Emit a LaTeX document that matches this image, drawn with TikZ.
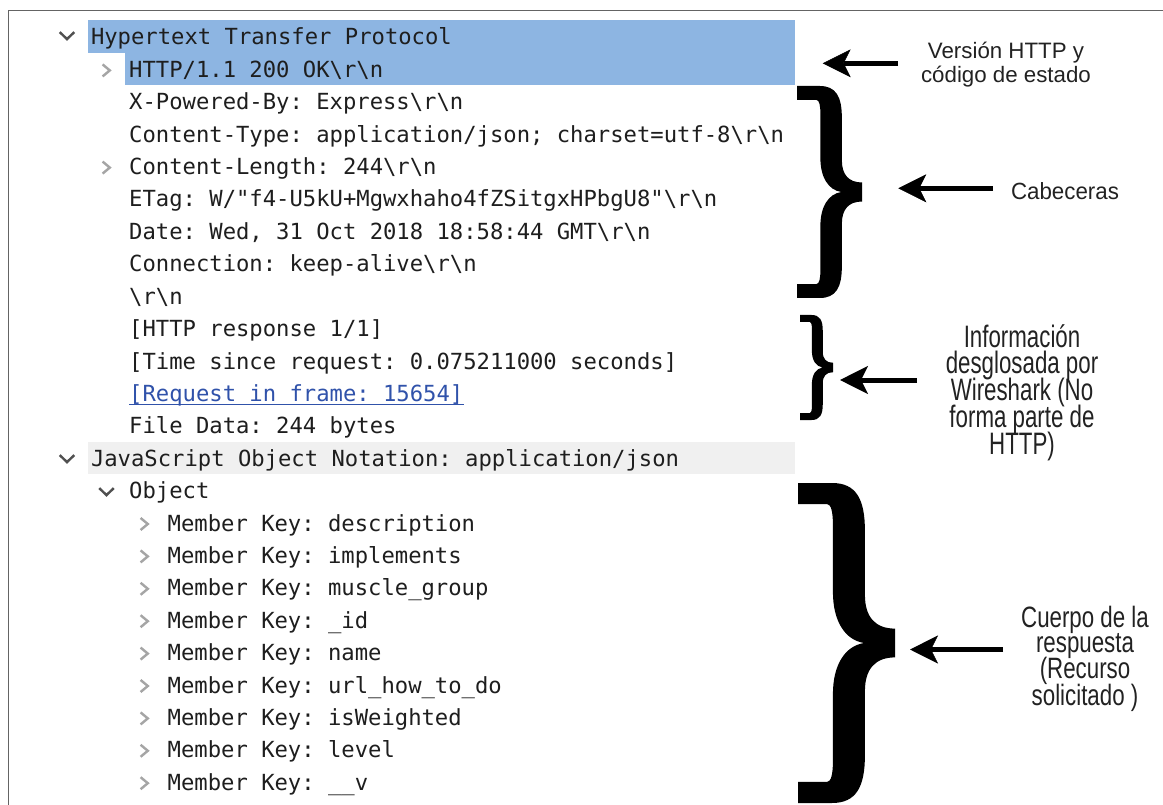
\documentclass[tikz,border=0pt]{standalone}
\usepackage{fontspec}
\usepackage{graphicx}
\setmonofont{DejaVu Sans Mono}
\newfontfamily\labelfont{Liberation Sans}
\usetikzlibrary{arrows.meta}

\definecolor{selblue}{RGB}{141,181,226}
\definecolor{rowgray}{RGB}{240,240,240}
\definecolor{framecol}{RGB}{100,100,100}
\definecolor{codecol}{RGB}{30,30,30}
\definecolor{linkcol}{RGB}{48,82,170}
\definecolor{chevdark}{RGB}{80,80,80}
\definecolor{chevlight}{RGB}{165,165,165}
\definecolor{labcol}{RGB}{34,34,34}

% "\r\n" as printed by the packet dissector
\newcommand\eolmark{\textbackslash r\textbackslash n}
% vertically stretched label line
\newcommand\stretchy[2]{\scalebox{1}[#1]{#2}}
% bold curly brace outline in a unit box (x right, y down)
\newcommand\bracepath{(0,0) -- (0.35,0)
  .. controls (0.6,0) and (0.69,0.05) .. (0.69,0.15) -- (0.69,0.35)
  .. controls (0.69,0.42) and (0.8,0.455) .. (1,0.455) -- (1,0.545)
  .. controls (0.8,0.545) and (0.69,0.58) .. (0.69,0.65) -- (0.69,0.85)
  .. controls (0.69,0.95) and (0.6,1) .. (0.35,1) -- (0,1) -- (0,0.934)
  -- (0.3,0.934) .. controls (0.34,0.934) and (0.36,0.91) .. (0.36,0.87)
  -- (0.36,0.66) .. controls (0.36,0.57) and (0.48,0.51) .. (0.68,0.5)
  .. controls (0.48,0.49) and (0.36,0.43) .. (0.36,0.34) -- (0.36,0.13)
  .. controls (0.36,0.09) and (0.34,0.066) .. (0.3,0.066) -- (0,0.066) -- cycle}

\tikzset{
  pics/chevopen/.style={code={
    \draw[chevdark, line width=2.4pt] (-7.3,-3.4) -- (0,3.6) -- (7.3,-3.4);}},
  pics/chevshut/.style={code={
    \draw[chevlight, line width=2.4pt] (-3.4,-6) -- (3.8,0) -- (-3.4,6);}},
}

\begin{document}
\begin{tikzpicture}[x=1pt, y=-1pt,
  code/.style={font=\ttfamily\fontsize{22.2}{26}\selectfont, text=codecol,
    inner sep=0pt, anchor=base west},
  link/.style={code, text=linkcol},
  lab/.style={font=\labelfont\fontsize{22.3}{26}\selectfont, text=labcol,
    inner sep=0pt, anchor=base},
  callout/.style={black, line width=5pt,
    -{Stealth[length=28pt, width=28pt, inset=7pt, line width=0.5pt]}},
]
\useasboundingbox (0,0) rectangle (1163,805);
\fill[white] (0,0) rectangle (1163,805);

% selection and section bands
\fill[selblue] (88,20.3) rectangle (795,52.7);
\fill[selblue] (125,52.7) rectangle (795,85.1);
\fill[rowgray] (88,442) rectangle (795,474.4);

% panel border
\draw[framecol, line width=1.5pt] (8.5,805) -- (8.5,10.5) -- (1163,10.5);

% packet tree
\node[code] (r0)  at (90.8,45)    {Hypertext Transfer Protocol};
\node[code] (r1)  at (129,77.4)   {HTTP/1.1 200 OK\eolmark};
\node[code] (r2)  at (129,109.8)  {X-Powered-By: Express\eolmark};
\node[code] (r3)  at (129,142.2)  {Content-Type: application/json; charset=utf-8\eolmark};
\node[code] (r4)  at (129,174.6)  {Content-Length: 244\eolmark};
\node[code] (r5)  at (129,207)    {ETag: W/"f4-U5kU+Mgwxhaho4fZSitgxHPbgU8"\eolmark};
\node[code] (r6)  at (129,239.4)  {Date: Wed, 31 Oct 2018 18:58:44 GMT\eolmark};
\node[code] (r7)  at (129,271.8)  {Connection: keep-alive\eolmark};
\node[code] (r8)  at (129,304.2)  {\eolmark};
\node[code] (r9)  at (129,336.6)  {[HTTP response 1/1]};
\node[code] (r10) at (129,369)    {[Time since request: 0.075211000 seconds]};
\node[link] (r11) at (129,401.4)  {[Request in frame: 15654]};
\node[code] (r12) at (129,433.8)  {File Data: 244 bytes};
\node[code] (r13) at (90.8,466.2) {JavaScript Object Notation: application/json};
\node[code] (r14) at (129,498.6)  {Object};
\node[code] (r15) at (167.5,531)  {Member Key: description};
\node[code] (r16) at (167.5,563.4) {Member Key: implements};
\node[code] (r17) at (167.5,595.8) {Member Key: muscle\_group};
\node[code] (r18) at (167.5,628.2) {Member Key: \_id};
\node[code] (r19) at (167.5,660.6) {Member Key: name};
\node[code] (r20) at (167.5,693)   {Member Key: url\_how\_to\_do};
\node[code] (r21) at (167.5,725.4) {Member Key: isWeighted};
\node[code] (r22) at (167.5,757.8) {Member Key: level};
\node[code] (r23) at (167.5,790.2) {Member Key: \_\_v};

% hyperlink underline
\draw[linkcol, line width=1.3pt] ([yshift=-3pt]r11.base west) -- ([yshift=-3pt]r11.base east);

% expand / collapse markers
\pic at (67,35.5)   {chevopen};
\pic at (67,458.5)  {chevopen};
\pic at (106.5,491.5) {chevopen};
\pic at (106,70.4)  {chevshut};
\pic at (106,167.6) {chevshut};
\foreach \yy in {524,556.4,588.8,621.2,653.6,686,718.4,750.8,783.2}
  \pic at (144,\yy) {chevshut};

% braces
\begin{scope}[shift={(797,86)}, xscale=65, yscale=212]
  \fill[black] \bracepath;
\end{scope}
\begin{scope}[shift={(800,315)}, xscale=33, yscale=105]
  \fill[black] \bracepath;
\end{scope}
\begin{scope}[shift={(798,483)}, xscale=97, yscale=320]
  \fill[black] \bracepath;
\end{scope}

% arrows
\coordinate (t1) at (898,63.3);  \coordinate (h1) at (822.7,63.3);
\coordinate (t2) at (993,188.3); \coordinate (h2) at (898.3,188.3);
\coordinate (t3) at (917,380);   \coordinate (h3) at (840,380);
\coordinate (t4) at (1003,649.5); \coordinate (h4) at (910,649.5);
\draw[callout] (t1) -- (h1);
\draw[callout] (t2) -- (h2);
\draw[callout] (t3) -- (h3);
\draw[callout] (t4) -- (h4);

% annotations
\node[lab] (v1) at (1006,58.5) {Versión HTTP y};
\node[lab] (v2) at (1006,82.5) {código de estado};

\node[lab] (c1) at (1065,200) {\stretchy{1.05}{Cabeceras}};

\node[lab] (w1) at (1022,347.5) {\stretchy{1.39}{Información}};
\node[lab] (w2) at (1022,373.7) {\stretchy{1.39}{desglosada por}};
\node[lab] (w3) at (1022,400.4) {\stretchy{1.39}{Wireshark (No}};
\node[lab] (w4) at (1022,427.1) {\stretchy{1.39}{forma parte de}};
\node[lab] (w5) at (1022,454.3) {\stretchy{1.39}{HTTP)}};

\node[lab] (b1) at (1085,627)   {\stretchy{1.32}{Cuerpo de la}};
\node[lab] (b2) at (1085,652.5) {\stretchy{1.32}{respuesta}};
\node[lab] (b3) at (1085,678.5) {\stretchy{1.32}{(Recurso}};
\node[lab] (b4) at (1085,705)   {\stretchy{1.32}{solicitado )}};
\end{tikzpicture}
\end{document}
